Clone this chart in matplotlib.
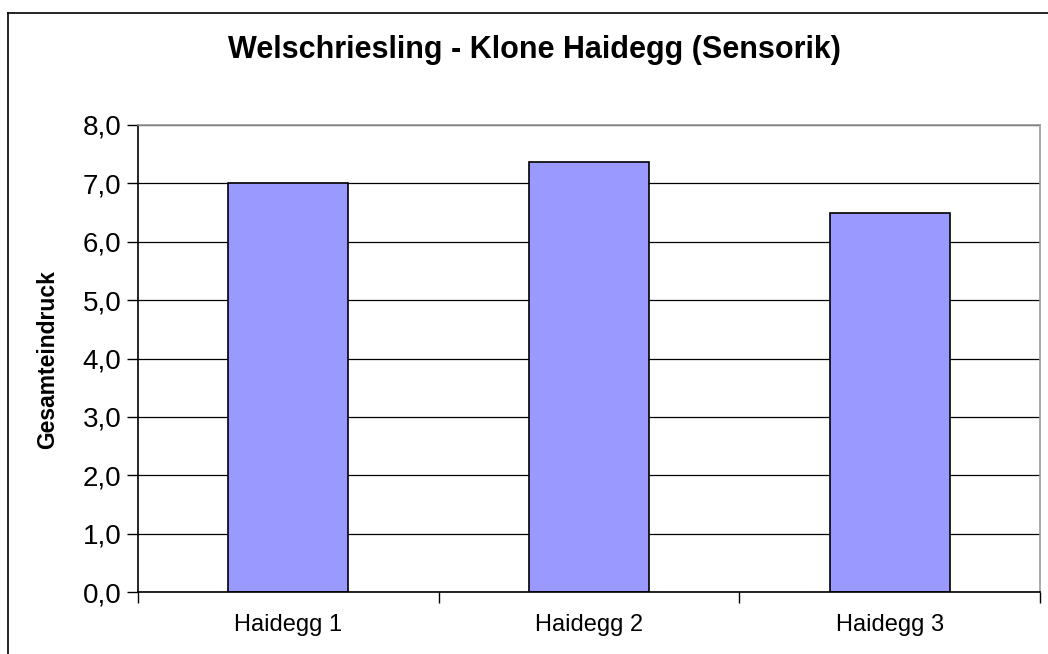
import matplotlib
matplotlib.use("Agg")
import matplotlib.pyplot as plt
from matplotlib.lines import Line2D

categories = ["Haidegg 1", "Haidegg 2", "Haidegg 3"]
values = [7.0, 7.37, 6.5]
yticks = [0, 1, 2, 3, 4, 5, 6, 7, 8]
ytick_labels = ["0,0", "1,0", "2,0", "3,0", "4,0", "5,0", "6,0", "7,0", "8,0"]

plt.rcParams['font.family'] = ['Liberation Sans', 'DejaVu Sans']

fig = plt.figure(figsize=(10.48, 6.54), dpi=100)
ax = fig.add_axes([138/1048, (654-592)/654, (1040-138)/1048, (592-125)/654])

x = list(range(len(categories)))
ax.bar(x, values, width=0.4, color="#9999FF", edgecolor="black", linewidth=1.2, zorder=3)

ax.set_xlim(-0.5, 2.5)
ax.set_ylim(0, 8)
ax.set_yticks(yticks)
ax.set_yticklabels(ytick_labels, fontsize=20)
ax.set_xticks(x)
ax.set_xticklabels(categories, fontsize=17)
ax.tick_params(axis='x', length=0, pad=16)
ax.tick_params(axis='y', length=8, width=1, pad=4, direction='out')
ax.set_xticks([-0.5, 0.5, 1.5, 2.5], minor=True)
ax.tick_params(axis='x', which='minor', length=8, width=1, direction='out')

ax.yaxis.grid(True, color="black", linewidth=0.9, zorder=0)
ax.set_axisbelow(True)

ax.spines['left'].set_color('black')
ax.spines['bottom'].set_color('black')
ax.spines['top'].set_color('#999999')
ax.spines['right'].set_color('#999999')
for s in ax.spines.values():
    s.set_linewidth(1.2)
ax.spines['bottom'].set_zorder(4)

fig.text(48/1048, 1 - 360/654, "Gesamteindruck", rotation=90, ha='center', va='center',
         fontsize=16.5, fontweight='bold')

fig.text(534/1048, 1 - 50/654, "Welschriesling - Klone Haidegg (Sensorik)",
         ha='center', va='center', fontsize=22, fontweight='bold')

# chart area border (partially visible)
fig.add_artist(Line2D([8/1048, 8/1048], [0, 1 - 13/654], color='black', linewidth=1.2, transform=fig.transFigure))
fig.add_artist(Line2D([8/1048, 1], [1 - 13/654, 1 - 13/654], color='black', linewidth=1.2, transform=fig.transFigure))

fig.savefig("out.png", dpi=100)
